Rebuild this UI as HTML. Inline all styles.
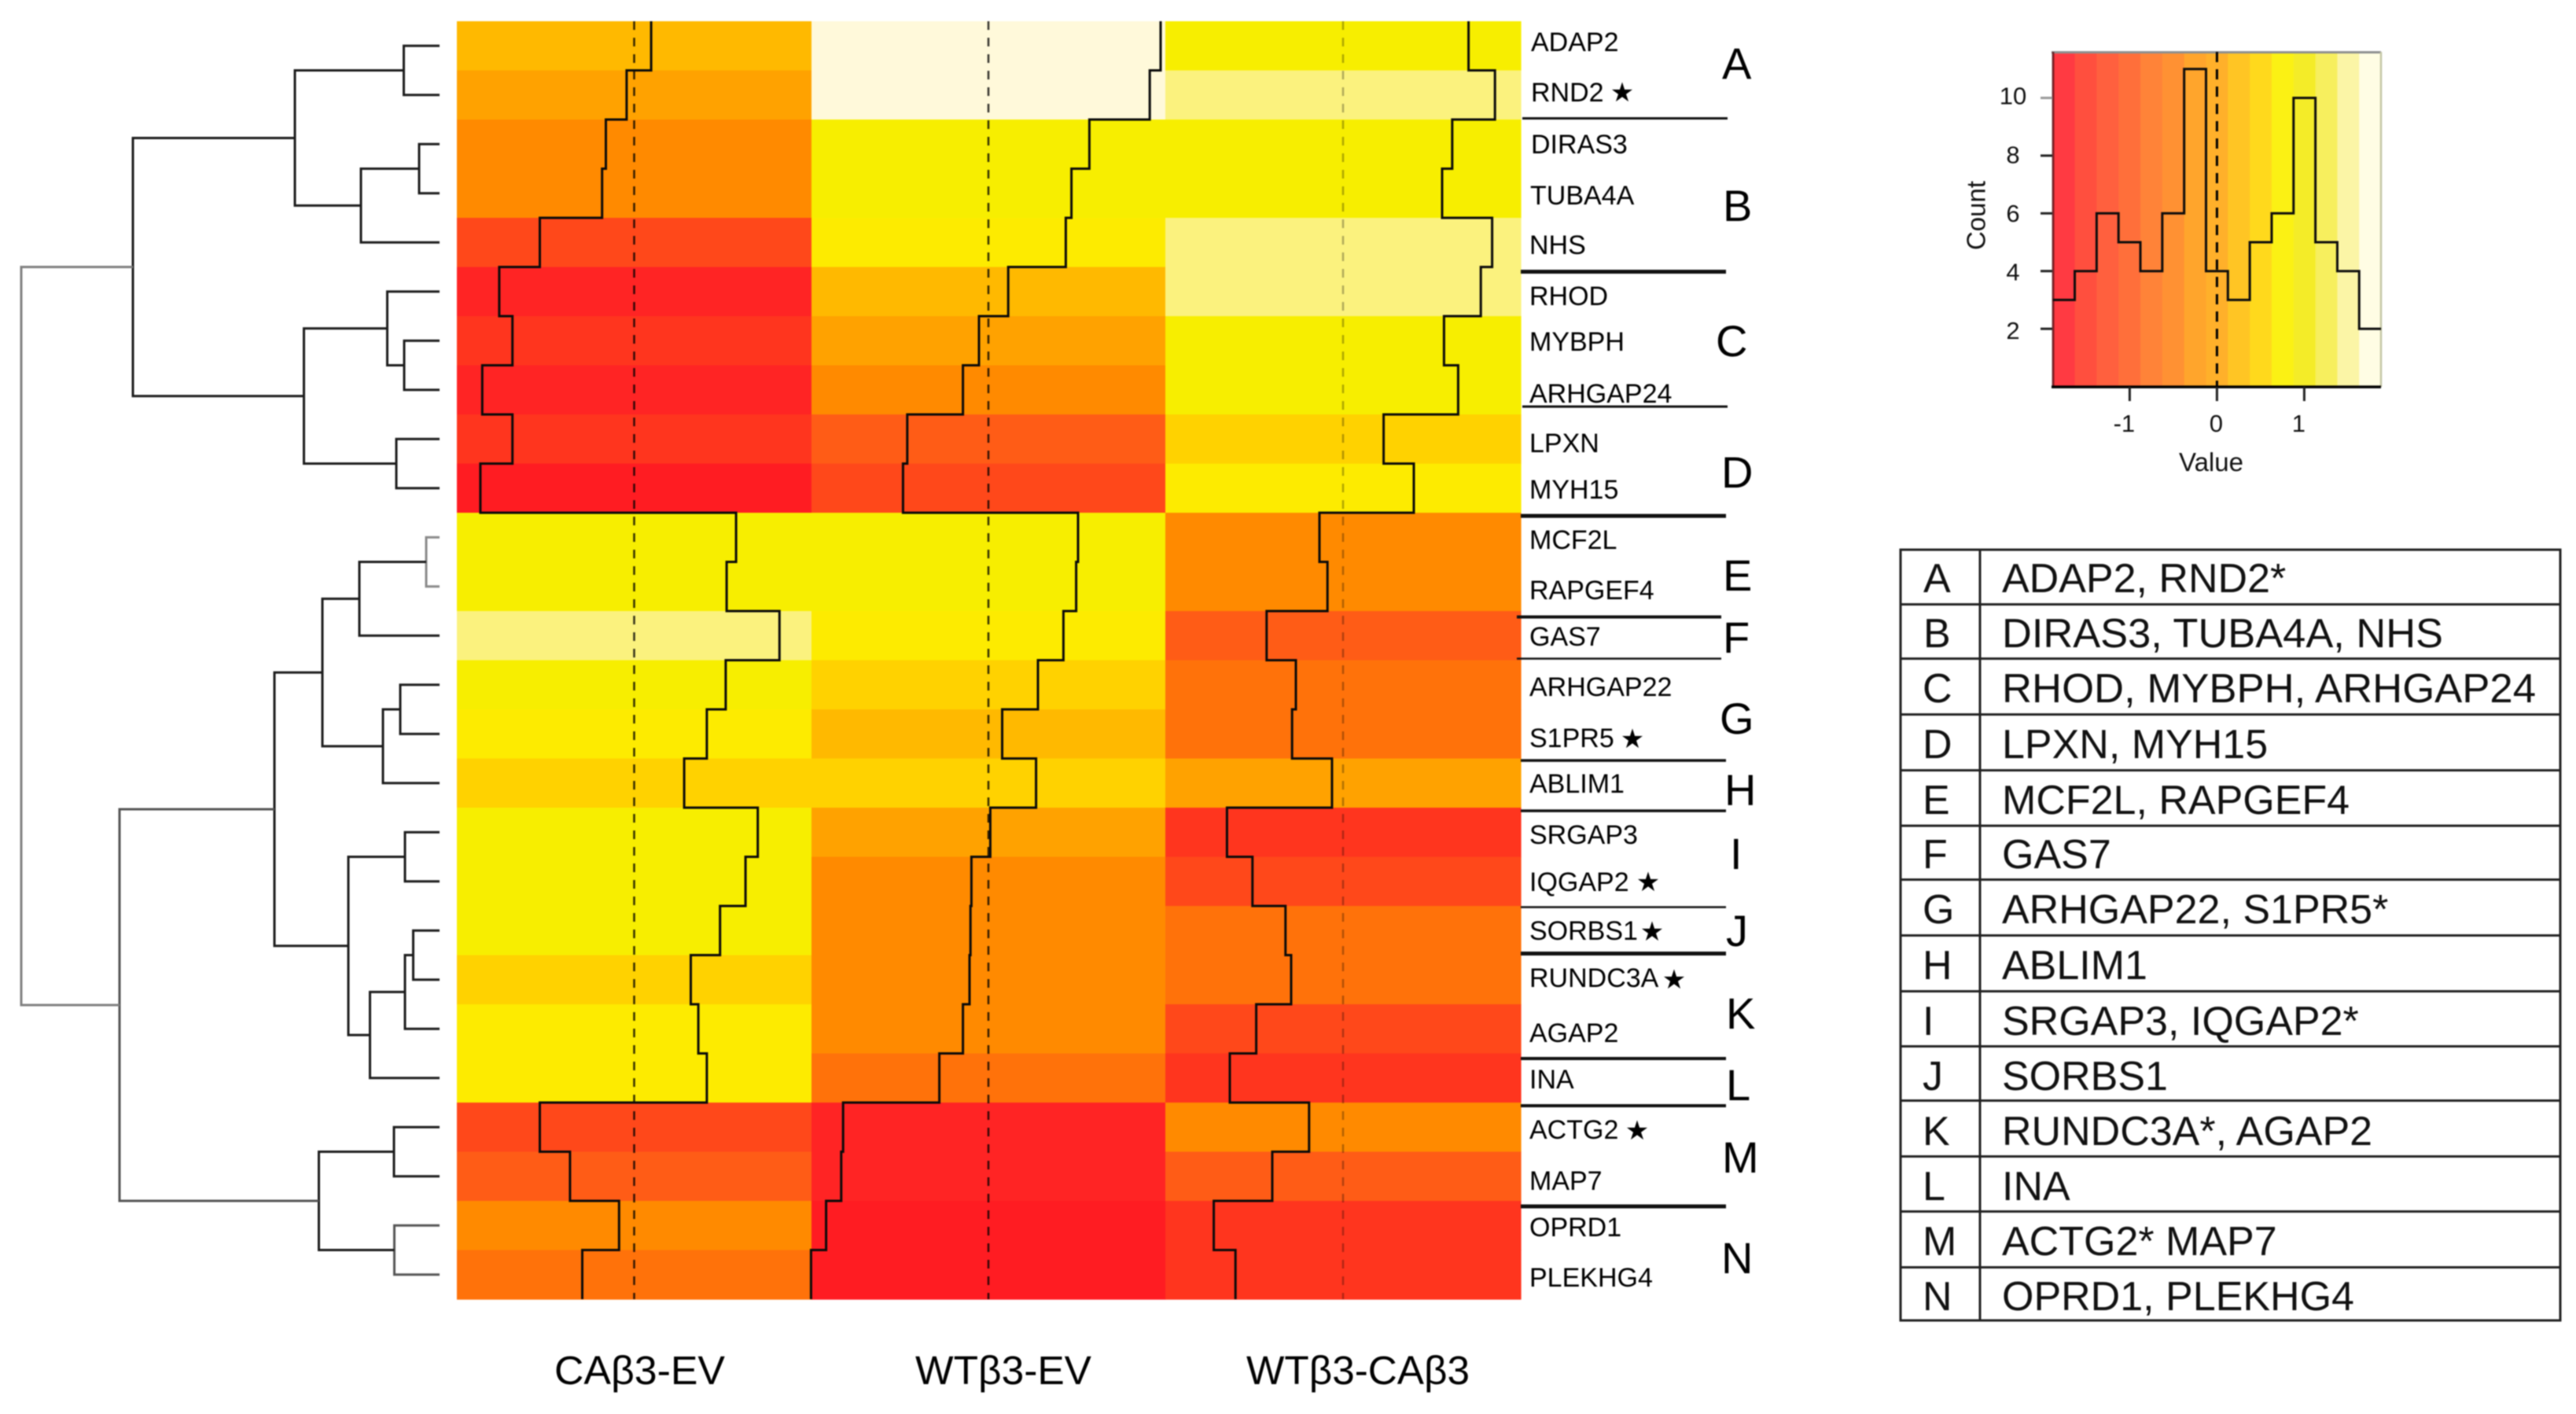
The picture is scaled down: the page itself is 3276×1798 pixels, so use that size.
<!DOCTYPE html>
<html lang="en">
<head>
<meta charset="utf-8">
<title>Clustered heatmap of gene expression differences</title>
<style>
html,body{margin:0;padding:0;background:#fff;}
svg{display:block;font-family:"Liberation Sans",Arial,sans-serif;filter:blur(0.7px);}
.gene{font-size:34px;fill:#000;}
.star{font-size:34px;fill:#000;font-family:"DejaVu Sans",sans-serif;}
.cluster{font-size:56px;fill:#000;}
.title{font-size:51px;fill:#000;}
.tick{font-size:31px;fill:#111;}
.axt{font-size:33px;fill:#111;}
.tbl{font-size:52px;fill:#111;}
.sep{stroke:#111;}
.grid{stroke:#222;stroke-width:3;}
</style>
</head>
<body>
<svg id="figure" xmlns="http://www.w3.org/2000/svg" width="3276" height="1798" viewBox="0 0 3276 1798">
<rect width="3276" height="1798" fill="#ffffff"/>
<g id="dendrogram"></g>
<g id="heatmap"></g>
<g id="traces"></g>

<g>
<text class="gene" x="1947" y="65">ADAP2</text>
<text class="gene" x="1947" y="129">RND2</text>
<text class="gene" x="1947" y="195">DIRAS3</text>
<text class="gene" x="1946" y="260">TUBA4A</text>
<text class="gene" x="1945" y="323">NHS</text>
<text class="gene" x="1945" y="388">RHOD</text>
<text class="gene" x="1945" y="446">MYBPH</text>
<text class="gene" x="1945" y="512">ARHGAP24</text>
<text class="gene" x="1945" y="575">LPXN</text>
<text class="gene" x="1945" y="634">MYH15</text>
<text class="gene" x="1945" y="698">MCF2L</text>
<text class="gene" x="1945" y="762">RAPGEF4</text>
<text class="gene" x="1945" y="821">GAS7</text>
<text class="gene" x="1945" y="885">ARHGAP22</text>
<text class="gene" x="1945" y="950">S1PR5</text>
<text class="gene" x="1945" y="1008">ABLIM1</text>
<text class="gene" x="1945" y="1073">SRGAP3</text>
<text class="gene" x="1945" y="1133">IQGAP2</text>
<text class="gene" x="1945" y="1195">SORBS1</text>
<text class="gene" x="1945" y="1255">RUNDC3A</text>
<text class="gene" x="1945" y="1325">AGAP2</text>
<text class="gene" x="1945" y="1384">INA</text>
<text class="gene" x="1945" y="1448">ACTG2</text>
<text class="gene" x="1945" y="1513">MAP7</text>
<text class="gene" x="1945" y="1572">OPRD1</text>
<text class="gene" x="1945" y="1636">PLEKHG4</text>
</g>

<g>
<text class="star" x="2063" y="129" text-anchor="middle">★</text>
<text class="star" x="2076" y="951" text-anchor="middle">★</text>
<text class="star" x="2096" y="1133" text-anchor="middle">★</text>
<text class="star" x="2101" y="1196" text-anchor="middle">★</text>
<text class="star" x="2129" y="1257" text-anchor="middle">★</text>
<text class="star" x="2082" y="1449" text-anchor="middle">★</text>
</g>

<g>
<line class="sep" x1="1936" x2="2197" y1="150.5" y2="150.5" stroke-width="3"/>
<line class="sep" x1="1934" x2="2195" y1="345.5" y2="345.5" stroke-width="5"/>
<line class="sep" x1="1936" x2="2197" y1="517" y2="517" stroke-width="3"/>
<line class="sep" x1="1934" x2="2195" y1="656" y2="656" stroke-width="5"/>
<line class="sep" x1="1929" x2="2189" y1="784.5" y2="784.5" stroke-width="4"/>
<line class="sep" x1="1929" x2="2189" y1="837.5" y2="837.5" stroke-width="2.5"/>
<line class="sep" x1="1934" x2="2195" y1="967" y2="967" stroke-width="3.5"/>
<line class="sep" x1="1934" x2="2195" y1="1031" y2="1031" stroke-width="3.5"/>
<line class="sep" x1="1934" x2="2195" y1="1153.5" y2="1153.5" stroke-width="2.5"/>
<line class="sep" x1="1934" x2="2195" y1="1212.5" y2="1212.5" stroke-width="5"/>
<line class="sep" x1="1934" x2="2195" y1="1346" y2="1346" stroke-width="4"/>
<line class="sep" x1="1934" x2="2195" y1="1406" y2="1406" stroke-width="4"/>
<line class="sep" x1="1934" x2="2195" y1="1534" y2="1534" stroke-width="5"/>
</g>

<g>
<text class="cluster" x="2190" y="100">A</text>
<text class="cluster" x="2191" y="281">B</text>
<text class="cluster" x="2182" y="453">C</text>
<text class="cluster" x="2189" y="620">D</text>
<text class="cluster" x="2191" y="751">E</text>
<text class="cluster" x="2191" y="830">F</text>
<text class="cluster" x="2187" y="933">G</text>
<text class="cluster" x="2193" y="1024">H</text>
<text class="cluster" x="2200" y="1105">I</text>
<text class="cluster" x="2195" y="1203">J</text>
<text class="cluster" x="2195" y="1308">K</text>
<text class="cluster" x="2195" y="1399">L</text>
<text class="cluster" x="2190" y="1491">M</text>
<text class="cluster" x="2189" y="1619">N</text>
</g>

<g>
<text class="title" x="705" y="1760" textLength="217" lengthAdjust="spacingAndGlyphs">CAβ3-EV</text>
<text class="title" x="1164" y="1760" textLength="224" lengthAdjust="spacingAndGlyphs">WTβ3-EV</text>
<text class="title" x="1585" y="1760" textLength="284" lengthAdjust="spacingAndGlyphs">WTβ3-CAβ3</text>
</g>

<g id="colorkey"></g>

<g>
<rect x="2417" y="699" width="839" height="980" fill="none" stroke="#222" stroke-width="3"/>
<line class="grid" x1="2518" x2="2518" y1="699" y2="1679"/>
<line class="grid" x1="2417" x2="3256" y1="768.5" y2="768.5"/>
<line class="grid" x1="2417" x2="3256" y1="837.5" y2="837.5"/>
<line class="grid" x1="2417" x2="3256" y1="908.5" y2="908.5"/>
<line class="grid" x1="2417" x2="3256" y1="979.5" y2="979.5"/>
<line class="grid" x1="2417" x2="3256" y1="1050" y2="1050"/>
<line class="grid" x1="2417" x2="3256" y1="1118.5" y2="1118.5"/>
<line class="grid" x1="2417" x2="3256" y1="1189.5" y2="1189.5"/>
<line class="grid" x1="2417" x2="3256" y1="1260.5" y2="1260.5"/>
<line class="grid" x1="2417" x2="3256" y1="1330.5" y2="1330.5"/>
<line class="grid" x1="2417" x2="3256" y1="1399.5" y2="1399.5"/>
<line class="grid" x1="2417" x2="3256" y1="1470.5" y2="1470.5"/>
<line class="grid" x1="2417" x2="3256" y1="1540.5" y2="1540.5"/>
<line class="grid" x1="2417" x2="3256" y1="1611.5" y2="1611.5"/>
<text class="tbl" x="2446" y="753">A</text>
<text class="tbl" x="2546" y="753">ADAP2, RND2*</text>
<text class="tbl" x="2446" y="823">B</text>
<text class="tbl" x="2546" y="823" textLength="561" lengthAdjust="spacingAndGlyphs">DIRAS3, TUBA4A, NHS</text>
<text class="tbl" x="2445" y="893">C</text>
<text class="tbl" x="2546" y="893" textLength="679" lengthAdjust="spacingAndGlyphs">RHOD, MYBPH, ARHGAP24</text>
<text class="tbl" x="2445" y="964">D</text>
<text class="tbl" x="2546" y="964">LPXN, MYH15</text>
<text class="tbl" x="2445" y="1035">E</text>
<text class="tbl" x="2546" y="1035">MCF2L, RAPGEF4</text>
<text class="tbl" x="2445" y="1104">F</text>
<text class="tbl" x="2546" y="1104">GAS7</text>
<text class="tbl" x="2445" y="1174">G</text>
<text class="tbl" x="2546" y="1174">ARHGAP22, S1PR5*</text>
<text class="tbl" x="2445" y="1245">H</text>
<text class="tbl" x="2546" y="1245">ABLIM1</text>
<text class="tbl" x="2445" y="1316">I</text>
<text class="tbl" x="2546" y="1316">SRGAP3, IQGAP2*</text>
<text class="tbl" x="2445" y="1386">J</text>
<text class="tbl" x="2546" y="1386">SORBS1</text>
<text class="tbl" x="2445" y="1456">K</text>
<text class="tbl" x="2546" y="1456">RUNDC3A*, AGAP2</text>
<text class="tbl" x="2445" y="1526">L</text>
<text class="tbl" x="2546" y="1526">INA</text>
<text class="tbl" x="2445" y="1596">M</text>
<text class="tbl" x="2546" y="1596">ACTG2* MAP7</text>
<text class="tbl" x="2445" y="1666">N</text>
<text class="tbl" x="2546" y="1666">OPRD1, PLEKHG4</text>
</g>
</svg>

<script>
// ---- data ----
const genes = ["ADAP2","RND2","DIRAS3","TUBA4A","NHS","RHOD","MYBPH","ARHGAP24","LPXN","MYH15","MCF2L","RAPGEF4","GAS7","ARHGAP22","S1PR5","ABLIM1","SRGAP3","IQGAP2","SORBS1","RUNDC3A","AGAP2","INA","ACTG2","MAP7","OPRD1","PLEKHG4"];
const conditions = ["ca-ev","wt-ev","wt-ca"];
const valuesCaEv = [0.18,-0.08,-0.30,-0.34,-1.00,-1.43,-1.29,-1.61,-1.29,-1.63,1.08,0.98,1.54,0.97,0.77,0.53,1.31,1.18,0.91,0.60,0.68,0.77,-1.00,-0.68,-0.16,-0.55];
const valuesWtEv = [1.825,1.71,1.07,0.88,0.82,0.21,-0.10,-0.27,-0.86,-0.905,0.95,0.93,0.795,0.525,0.146,0.505,0.02,-0.18,-0.19,-0.20,-0.27,-0.52,-1.54,-1.56,-1.72,-1.88];
const valuesWtCa = [1.33,1.61,1.157,1.05,1.58,1.46,1.07,1.22,0.43,0.75,-0.25,-0.165,-0.81,-0.50,-0.54,-0.117,-1.23,-0.96,-0.61,-0.55,-0.92,-1.20,-0.36,-0.75,-1.37,-1.14];

const histCounts = [3,4,6,5,4,6,11,4,3,5,6,10,5,4,2];
const histYTicks = [2,4,6,8,10];
const histXTicks = [-1,0,1];
const histXTickLabels = ["-1","0","1"];

// hclust-style merge table: negative = leaf (1-based row), positive = earlier merge (1-based)
const mergeLeft  = [-1,-3,2,1,-7,-6,-9,6,4,-11,10,-14,12,11,-17,-19,16,17,15,14,-23,-25,21,20,9];
const mergeRight = [-2,-4,-5,3,-8,5,-10,7,8,-12,-13,-15,-16,13,-18,-20,-21,-22,18,19,-24,-26,22,23,24];
const mergeHeight = [0.455,0.26,1.0,1.84,0.45,0.665,0.55,1.725,3.9,0.17,1.02,0.50,0.72,1.49,0.44,0.335,0.44,0.885,1.16,2.1,0.58,0.575,1.535,4.07,5.32];

// ---- colour scales ----
const valueMin = -1.88;
const valueMax = 1.88;
const heatPalette = ["#ff1c22","#ff2424","#ff351e","#ff481a","#ff5c16","#ff720a","#ff8a00","#ffa200","#ffb900","#ffd200","#fdeb00","#f7ee00","#f7ee00","#fbf27e","#fff9da"];
const keyPalette = ["#ff3a42","#ff4f3e","#ff603e","#ff6f3a","#ff8338","#ff9133","#ffa52c","#ffb02a","#ffc524","#ffd91c","#fbf114","#f4ec28","#f7ef5e","#fbf5a6","#fffde4"];

// ---- layout ----
const NS = "http://www.w3.org/2000/svg";
const heatTop = 27, rowH = 62.5, heatBottom = heatTop + rowH * genes.length;
const colLeft = [581, 1032, 1482], colWidth = [451, 450, 452];
const traceUnit = 120;
const binWidth = (valueMax - valueMin) / heatPalette.length;

function yRow(i){ return heatTop + rowH * i; }
function xTrace(c, v){ return colLeft[c] + colWidth[c] / 2 + v * traceUnit; }
function binOf(v){ return Math.max(0, Math.min(heatPalette.length - 1, Math.floor((v - valueMin) / binWidth))); }
function xDendro(h){ return 559 - 100 * h; }
function yDendro(p){ return heatTop + rowH * (p + 0.5); }
function xHist(v){ return 2819.4 + 111 * v; }
function yHist(c){ return 491.5 - 36.7 * c; }

function mk(tag, parent, attrs){
  const el = document.createElementNS(NS, tag);
  for (const k in attrs) el.setAttribute(k, attrs[k]);
  parent.appendChild(el);
  return el;
}

// ---- heatmap and traces ----
const series = [valuesCaEv, valuesWtEv, valuesWtCa];
const heatG = document.getElementById("heatmap");
const traceG = document.getElementById("traces");
series.forEach(function(vals, c){
  vals.forEach(function(v, i){
    const cell = mk("rect", heatG, {x: colLeft[c], y: yRow(i), width: colWidth[c] + 0.6, height: rowH + 0.6, fill: heatPalette[binOf(v)]});
    
    
  });
});
series.forEach(function(vals, c){
  const dash = mk("line", traceG, {x1: xTrace(c, 0), x2: xTrace(c, 0), y1: heatTop, y2: heatBottom, stroke: "#000", "stroke-width": 2.5, "stroke-dasharray": "11 10", "stroke-opacity": c === 2 ? 0.3 : 0.8});
  
  
  let d = "M" + xTrace(c, vals[0]) + " " + yRow(0);
  vals.forEach(function(v, i){
    d += "V" + yRow(i + 1);
    if (i < vals.length - 1) d += "H" + xTrace(c, vals[i + 1]);
  });
  const tr = mk("path", traceG, {d: d, fill: "none", stroke: "#0a0a0a", "stroke-width": 3});
  
  
});

// ---- dendrogram ----
const dendroG = document.getElementById("dendrogram");
const nodeY = [], nodeH = [];
function childPos(ref){
  if (ref < 0) return {y: -ref - 1, h: 0};
  return {y: nodeY[ref - 1], h: nodeH[ref - 1]};
}
function linkStroke(m){
  if (m === mergeHeight.length - 1) return "#808080";
  if (m === 9) return "#8a8a8a";
  if (m === 23) return "#555";
  if (m === 21) return "#555";
  return "#1c1c1c";
}
mergeHeight.forEach(function(h, m){
  const a = childPos(mergeLeft[m]), b = childPos(mergeRight[m]);
  nodeY[m] = (a.y + b.y) / 2;
  nodeH[m] = h;
  const d = "M" + xDendro(a.h) + " " + yDendro(a.y) + "H" + xDendro(h) + "V" + yDendro(b.y) + "H" + xDendro(b.h);
  const link = mk("path", dendroG, {d: d, fill: "none", stroke: linkStroke(m), "stroke-width": 3});
  
  
});

// ---- colour key histogram ----
const keyG = document.getElementById("colorkey");
keyPalette.forEach(function(col, k){
  const x0 = xHist(valueMin + k * binWidth), x1 = xHist(valueMin + (k + 1) * binWidth);
  const strip = mk("rect", keyG, {x: x0, y: 66, width: x1 - x0 + 0.5, height: 426, fill: col});
  
  
});
const boxTop = mk("line", keyG, {x1: 2609, x2: 3028, y1: 66.5, y2: 66.5, stroke: "#8e9090", "stroke-width": 3});


const boxRight = mk("line", keyG, {x1: 3028, x2: 3028, y1: 66, y2: 492, stroke: "#c4c6a4", "stroke-width": 2.5});


const boxLeft = mk("line", keyG, {x1: 2611, x2: 2611, y1: 66, y2: 492, stroke: "#5a1015", "stroke-width": 3, "stroke-opacity": 0.8});


const keyZero = mk("line", keyG, {x1: xHist(0), x2: xHist(0), y1: 66, y2: 492, stroke: "#000", "stroke-width": 3, "stroke-dasharray": "13 9"});



let histD = "M" + xHist(valueMin) + " " + yHist(histCounts[0]);
histCounts.forEach(function(c, k){
  histD += "H" + xHist(valueMin + (k + 1) * binWidth);
  if (k < histCounts.length - 1) histD += "V" + yHist(histCounts[k + 1]);
});
const histLine = mk("path", keyG, {d: histD, fill: "none", stroke: "#0c0c0c", "stroke-width": 3});



const xAxisLine = mk("line", keyG, {x1: 2609, x2: 3028, y1: 492, y2: 492, stroke: "#000", "stroke-width": 3.5});



histYTicks.forEach(function(t){
  const y = yHist(t);
  const tk = mk("line", keyG, {x1: 2595, x2: 2610, y1: y, y2: y, stroke: t === 10 ? "#999" : "#222", "stroke-width": 3});
  
  
  const lb = mk("text", keyG, {x: 2560, y: y + 13 - (t - 2) * 0.6, "text-anchor": "middle", class: "tick"});
  
  
  lb.textContent = String(t);
});
histXTicks.forEach(function(t, i){
  const x = xHist(t);
  const tk = mk("line", keyG, {x1: x, x2: x, y1: 492, y2: 510, stroke: "#222", "stroke-width": 3});
  
  
  const lb = mk("text", keyG, {x: x - (t === 0 ? 1 : 7), y: 549, "text-anchor": "middle", class: "tick"});
  
  
  lb.textContent = histXTickLabels[i];
});
const xTitle = mk("text", keyG, {x: 2812, y: 599, "text-anchor": "middle", class: "axt"});


xTitle.textContent = "Value";
const yTitle = mk("text", keyG, {x: 0, y: 0, transform: "translate(2524.5 274) rotate(-90)", "text-anchor": "middle", class: "axt"});


yTitle.textContent = "Count";
</script>
</body>
</html>
